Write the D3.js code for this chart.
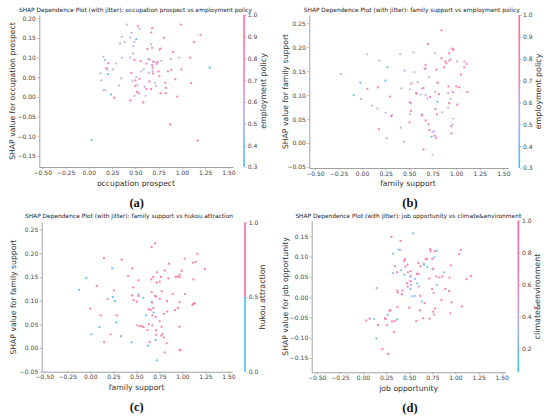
<!DOCTYPE html>
<html lang="en">
<head>
<meta charset="UTF-8">
<title>SHAP Dependence Plots (with jitter)</title>
<style>
  body { margin: 0; padding: 0; background: #fff; overflow: hidden; }
  svg { display: block; font-family: "DejaVu Sans", sans-serif; }
</style>
</head>
<body>
<script src="https://d3js.org/d3.v7.min.js"></script>
<script>
// ---- (a) occupation prospect vs employment policy ----
const occProspect = [0.41,0.53,0.546,0.68,0.99,0.67,0.46,1.2,0.354,0.51,
  0.446,0.807,0.386,0.49,0.336,1.13,0.67,0.48,0.63,0.68,
  0.76,0.77,0.907,0.475,0.157,0.446,0.175,0.357,1.09,0.97,
  0.654,0.64,0.49,0.557,0.88,0.69,0.78,0.74,0.71,0.21,
  0.29,0.62,0.73,0.68,0.19,0.26,0.59,0.686,0.996,0.886,
  0.20,0.686,1.3,0.125,0.207,0.564,0.75,0.85,0.646,0.457,
  0.69,0.76,0.51,0.35,0.546,0.93,0.136,0.47,0.50,0.65,
  1.10,0.71,0.82,0.525,0.325,0.72,0.50,0.60,0.62,0.83,
  0.67,0.157,0.18,0.518,0.77,0.825,0.54,0.24,0.49,0.61,
  0.95,0.275,0.446,0.586,0.875,0.03,1.17];
const shapOccProspect = [0.184,0.18,0.173,0.175,0.184,0.164,0.163,0.158,0.153,0.147,
  0.151,0.15,0.14,0.14,0.136,0.14,0.134,0.129,0.122,0.125,
  0.12,0.123,0.114,0.11,0.102,0.10,0.094,0.10,0.10,0.10,
  0.095,0.096,0.094,0.091,0.096,0.09,0.092,0.089,0.089,0.086,
  0.085,0.085,0.084,0.081,0.073,0.07,0.07,0.074,0.07,0.069,
  0.069,0.066,0.075,0.06,0.058,0.065,0.065,0.065,0.061,0.061,
  0.06,0.053,0.051,0.047,0.046,0.045,0.042,0.04,0.042,0.039,
  0.035,0.036,0.036,0.031,0.029,0.028,0.028,0.026,0.02,0.023,
  0.02,0.017,0.017,0.013,0.01,0.01,0.01,0.006,0.003,0.003,
  0.001,-0.002,-0.009,-0.014,-0.07,-0.109,-0.111];
const employPolicyA = [0.55,0.95,0.55,0.95,0.95,0.95,0.55,0.95,0.55,0.32,
  0.55,0.95,0.55,0.55,0.55,0.95,0.55,0.55,0.95,0.95,
  0.55,0.95,0.95,0.55,0.55,0.55,0.55,0.55,0.95,0.55,
  0.95,0.55,0.95,0.95,0.55,0.95,0.55,0.95,0.55,0.95,
  0.55,0.95,0.95,0.95,0.95,0.55,0.55,0.95,0.95,0.95,
  0.55,0.55,0.32,0.55,0.32,0.55,0.95,0.95,0.55,0.95,
  0.95,0.95,0.55,0.55,0.95,0.95,0.55,0.55,0.95,0.95,
  0.95,0.55,0.95,0.55,0.55,0.55,0.95,0.55,0.95,0.95,
  0.95,0.55,0.55,0.95,0.95,0.95,0.95,0.32,0.55,0.55,
  0.95,0.95,0.95,0.95,0.95,0.32,0.95];

// ---- (b) family support vs employment policy ----
const familySupportB = [-0.223,0.053,0.184,0.404,0.546,0.70,0.777,0.844,0.926,0.96,
  0.97,0.27,0.45,0.557,0.674,0.663,0.674,0.79,0.844,0.87,
  0.885,0.897,0.926,0.94,1.01,1.085,1.085,1.11,1.05,-0.018,
  0.248,0.592,0.713,0.80,0.81,0.918,1.0,1.03,-0.089,-0.011,
  0.057,0.17,0.298,0.418,0.507,0.525,0.578,0.62,0.635,0.652,
  0.674,0.695,0.723,0.777,0.80,0.816,0.915,0.926,0.943,0.965,
  1.117,1.01,0.103,0.163,0.25,0.319,0.309,0.504,0.518,0.51,
  0.52,0.63,0.638,0.674,0.706,0.78,0.794,0.85,0.915,0.97,
  0.947,0.96,0.18,0.41,0.504,0.262,0.443,0.716,0.748,0.766,
  0.738,0.77,0.787,0.95,0.652,0.748,0.574];
const shapFamilySupportB = [0.144,0.185,0.172,0.185,0.189,0.206,0.187,0.235,0.187,0.197,
  0.194,0.158,0.151,0.148,0.163,0.155,0.155,0.153,0.177,0.158,
  0.17,0.166,0.172,0.175,0.17,0.17,0.158,0.165,0.143,0.126,
  0.13,0.127,0.137,0.126,0.125,0.118,0.118,0.116,0.10,0.092,
  0.113,0.116,0.097,0.114,0.112,0.124,0.103,0.101,0.113,0.115,
  0.10,0.093,0.096,0.107,0.086,0.102,0.104,0.083,0.092,0.106,
  0.106,0.08,0.078,0.072,0.063,0.058,0.056,0.085,0.083,0.06,
  0.067,0.06,0.058,0.047,0.039,0.071,0.06,0.064,0.074,0.051,
  0.035,0.039,0.029,0.032,0.043,0.01,0.003,0.027,0.023,0.025,
  0.013,0.015,0.011,0.02,-0.013,-0.024,0.104];
const employPolicyB = [0.55,0.55,0.55,0.55,0.55,0.95,0.55,0.95,0.95,0.95,
  0.95,0.32,0.55,0.55,0.95,0.55,0.95,0.95,0.95,0.95,
  0.95,0.95,0.95,0.55,0.55,0.55,0.95,0.95,0.95,0.32,
  0.32,0.55,0.55,0.95,0.55,0.95,0.95,0.95,0.32,0.55,
  0.95,0.95,0.95,0.55,0.55,0.95,0.95,0.55,0.55,0.95,
  0.55,0.55,0.95,0.55,0.32,0.95,0.55,0.95,0.55,0.95,
  0.95,0.95,0.55,0.55,0.55,0.55,0.95,0.95,0.55,0.55,
  0.95,0.55,0.95,0.95,0.95,0.95,0.95,0.55,0.55,0.55,
  0.95,0.55,0.95,0.55,0.95,0.55,0.55,0.95,0.55,0.55,
  0.32,0.95,0.95,0.95,0.95,0.55,0.95];

// ---- (c) family support vs hukou attraction ----
const familySupportC = [-0.123,-0.043,0.149,0.239,0.34,0.069,0.0,0.112,0.10,0.01,
  0.149,0.22,0.188,0.246,0.257,0.268,0.286,0.283,0.333,0.449,
  0.457,0.41,0.467,0.453,0.47,0.504,0.525,0.522,0.525,0.576,
  0.667,0.703,0.663,0.685,0.725,0.721,0.768,0.754,0.812,0.848,
  0.855,0.946,0.928,0.97,0.97,0.993,1.025,1.116,1.145,1.163,
  1.243,1.12,0.667,0.775,0.714,0.703,0.754,0.667,0.672,0.833,
  0.895,1.03,0.97,1.12,1.135,1.11,0.634,0.656,0.685,0.688,
  0.605,0.674,0.71,0.80,0.837,0.92,0.953,0.754,0.674,0.638,
  0.775,0.51,0.536,0.56,0.58,0.62,0.714,0.786,0.772,0.714,
  0.71,0.80,0.645,0.627,0.83,0.808,0.97,0.97,0.98,0.725];
const shapFamilySupportC = [0.123,0.148,0.19,0.168,0.187,0.131,0.083,0.069,0.044,0.029,
  0.012,0.029,0.104,0.108,0.122,0.099,0.069,0.054,0.025,0.012,
  0.168,0.152,0.128,0.111,0.101,0.098,0.143,0.113,0.11,0.106,
  0.213,0.221,0.145,0.15,0.16,0.138,0.15,0.14,0.164,0.147,
  0.178,0.151,0.15,0.155,0.15,0.163,0.189,0.18,0.182,0.199,
  0.167,0.145,0.118,0.12,0.109,0.11,0.104,0.097,0.096,0.099,
  0.114,0.114,0.097,0.093,0.095,0.091,0.082,0.08,0.084,0.075,
  0.069,0.069,0.065,0.072,0.077,0.08,0.084,0.057,0.048,0.05,
  0.045,0.048,0.046,0.046,0.044,0.038,0.037,0.03,0.026,0.028,
  0.017,0.022,0.013,0.005,0.01,-0.009,0.045,-0.004,-0.005,-0.026];
const hukouAttraction = [0,0,1,0,1,1,1,1,0,0,
  1,1,1,0,1,0,1,0,0,0,
  1,1,1,1,1,1,1,0,1,0,
  1,1,1,1,1,1,1,1,1,1,
  1,1,1,1,1,1,1,1,1,1,
  1,1,1,1,1,1,1,0,1,1,
  1,1,1,1,1,1,1,1,1,0,
  0,1,1,1,1,1,1,1,1,1,
  1,1,1,1,1,1,1,1,1,1,
  0,1,1,0,1,1,1,1,1,0];

// ---- (d) job opportunity vs climate&environment ----
const jobOpportunity = [0.543,0.308,0.406,0.384,0.402,0.326,0.725,0.732,0.775,0.80,
  1.058,1.04,0.772,0.75,0.453,0.446,0.482,0.348,0.46,0.598,
  0.62,0.656,0.66,0.678,0.69,0.696,0.754,0.761,0.95,0.413,
  0.326,0.37,0.446,0.486,0.514,0.522,0.51,0.562,0.583,0.598,
  0.717,0.793,0.826,0.858,0.877,0.935,1.12,1.167,0.797,0.514,
  0.475,0.482,0.514,0.587,0.605,0.518,0.746,0.764,0.891,0.93,
  0.149,0.427,0.37,0.377,0.42,0.529,0.558,0.62,0.638,0.667,
  0.848,0.957,0.373,0.5,0.616,0.78,1.069,0.768,0.761,0.946,
  0.297,0.286,0.268,0.239,0.246,0.072,0.12,0.036,0.163,0.26,
  0.315,0.344,0.37,0.576,0.652,0.72,0.337,0.145,0.21,0.272];
const shapJobOpportunity = [0.157,0.148,0.138,0.117,0.116,0.107,0.118,0.113,0.113,0.114,
  0.116,0.106,0.098,0.094,0.094,0.089,0.08,0.076,0.075,0.084,
  0.076,0.083,0.079,0.093,0.094,0.074,0.07,0.068,0.078,0.066,
  0.059,0.061,0.055,0.061,0.064,0.053,0.05,0.045,0.057,0.057,
  0.046,0.051,0.048,0.051,0.061,0.048,0.044,0.052,0.03,0.039,
  0.034,0.026,0.02,0.034,0.026,0.03,0.02,0.01,0.02,0.015,
  0.022,0.016,0.016,0.011,0.007,0.002,0.003,0.003,-0.011,-0.015,
  -0.007,-0.013,-0.024,-0.026,-0.033,-0.028,-0.023,-0.043,-0.036,-0.04,
  -0.033,-0.033,-0.044,-0.052,-0.054,-0.053,-0.054,-0.057,-0.069,-0.069,
  -0.06,-0.059,-0.055,-0.059,-0.052,-0.053,-0.086,-0.102,-0.128,-0.14];
const climateEnv = [0.15,0.92,0.92,0.15,0.45,0.15,0.92,0.92,0.92,0.15,
  0.92,0.92,0.15,0.92,0.92,0.92,0.92,0.92,0.92,0.92,
  0.92,0.45,0.15,0.92,0.92,0.15,0.92,0.45,0.92,0.15,
  0.15,0.92,0.15,0.92,0.92,0.45,0.45,0.15,0.92,0.92,
  0.92,0.92,0.92,0.92,0.15,0.92,0.92,0.92,0.15,0.92,
  0.92,0.92,0.15,0.15,0.45,0.45,0.92,0.92,0.92,0.92,
  0.15,0.92,0.92,0.92,0.92,0.4,0.15,0.92,0.15,0.92,
  0.92,0.92,0.92,0.92,0.92,0.92,0.92,0.92,0.92,0.92,
  0.92,0.92,0.15,0.92,0.92,0.92,0.15,0.92,0.92,0.92,
  0.92,0.92,0.15,0.92,0.92,0.92,0.92,0.15,0.92,0.92];

// tick values
const xTickValues = [-0.5, -0.25, 0, 0.25, 0.5, 0.75, 1.0, 1.25, 1.5];
const yTicksA = [-0.15, -0.10, -0.05, 0, 0.05, 0.10, 0.15, 0.20];
const yTicksBC = [-0.05, 0, 0.05, 0.10, 0.15, 0.20, 0.25];
const yTicksD = [-0.15, -0.10, -0.05, 0, 0.05, 0.10, 0.15];
const cbTicksAB = [0.3, 0.4, 0.5, 0.6, 0.7, 0.8, 0.9, 1.0];
const cbTicksC = [0.0, 0.5, 1.0];
const cbTicksD = [0.2, 0.4, 0.6, 0.8, 1.0];

const width = 550, height = 418;
const blue = "#3fc2f8", pink = "#ff68a2";
// blue -> lavender -> pink, pink reached early like the reference bars
const cmap = d3.scaleLinear()
  .domain([0, 0.35, 0.62, 1])
  .range([blue, "#b7aaf0", "#f77cb2", pink])
  .interpolate(d3.interpolateRgb);

const svg = d3.select("body").append("svg")
  .attr("width", width)
  .attr("height", height);

const panels = [
  { xs: occProspect, ys: shapOccProspect, cs: employPolicyA,
    title: "SHAP Dependence Plot (with jitter): occupation prospect vs employment policy",
    xLabel: "occupation prospect", yLabel: "SHAP value for occupation prospect",
    cLabel: "employment policy", caption: "(a)",
    box: [39.3, 233, 15, 167], xDom: [-0.532, 1.55], yDom: [-0.178, 0.2084], yTicks: yTicksA,
    cDom: [0.3, 1.0], cTicks: cbTicksAB, binary: false,
    cbX: 244, cbLabelX: 263.5, titleX: 135.5, titleY: 11.5, yLabelX: 12, xLabelX: 136, xLabelY: 186, capX: 136.7, capY: 207 },
  { xs: familySupportB, ys: shapFamilySupportB, cs: employPolicyB,
    title: "SHAP Dependence Plot (with jitter): family support vs employment policy",
    xLabel: "family support", yLabel: "SHAP value for family support",
    cLabel: "employment policy", caption: "(b)",
    box: [309.3, 508.3, 15, 168], xDom: [-0.56, 1.553], yDom: [-0.052, 0.267], yTicks: yTicksBC,
    cDom: [0.3, 1.0], cTicks: cbTicksAB, binary: false,
    cbX: 519.3, cbLabelX: 538.5, titleX: 411.7, titleY: 11.5, yLabelX: 285, xLabelX: 408, xLabelY: 186, capX: 410, capY: 207 },
  { xs: familySupportC, ys: shapFamilySupportC, cs: hukouAttraction,
    title: "SHAP Dependence Plot (with jitter): family support vs hukou attraction",
    xLabel: "family support", yLabel: "SHAP value for family support",
    cLabel: "hukou attraction", caption: "(c)",
    box: [41.7, 232.3, 222.3, 371.7], xDom: [-0.528, 1.543], yDom: [-0.05, 0.2656], yTicks: yTicksBC,
    cDom: [0, 1], cTicks: cbTicksC, binary: true,
    cbX: 245, cbLabelX: 262.5, titleX: 129, titleY: 217.7, yLabelX: 13.3, xLabelX: 136.7, xLabelY: 390, capX: 136.7, capY: 411 },
  { xs: jobOpportunity, ys: shapJobOpportunity, cs: climateEnv,
    title: "SHAP Dependence Plot (with jitter): job opportunity vs climate&environment",
    xLabel: "job opportunity", yLabel: "SHAP value for job opportunity",
    cLabel: "climate&environment", caption: "(d)",
    box: [311.7, 505.7, 220.7, 372.3], xDom: [-0.554, 1.543], yDom: [-0.185, 0.188], yTicks: yTicksD,
    cDom: [0.053, 1.0], cTicks: cbTicksD, binary: false,
    cbX: 518.3, cbLabelX: 537.5, titleX: 408.3, titleY: 217.7, yLabelX: 285, xLabelX: 408.7, xLabelY: 391, capX: 410, capY: 412 }
];

const defs = svg.append("defs");

function styleAxis(g) {
  g.select(".domain").attr("stroke", "#8a8a8a").attr("stroke-width", 0.8);
  g.selectAll(".tick line").attr("stroke", "#8a8a8a").attr("stroke-width", 0.6);
  g.selectAll(".tick text").attr("fill", "#444").attr("font-size", "6px")
    .attr("font-family", "DejaVu Sans, sans-serif");
}

panels.forEach((p, i) => {
  const [l, r, t, b] = p.box;
  const x = d3.scaleLinear().domain(p.xDom).range([l, r]);
  const y = d3.scaleLinear().domain(p.yDom).range([b, t]);
  const c = d3.scaleLinear().domain(p.cDom).range([0, 1]).clamp(true);
  const g = svg.append("g");

  // axes (left and bottom spines only)
  g.append("g")
    .attr("transform", `translate(0,${b})`)
    .call(d3.axisBottom(x).tickValues(xTickValues).tickSize(2).tickSizeOuter(0)
      .tickPadding(1.5).tickFormat(d3.format(".2f")))
    .call(styleAxis);
  g.append("g")
    .attr("transform", `translate(${l},0)`)
    .call(d3.axisLeft(y).tickValues(p.yTicks).tickSize(2).tickSizeOuter(0)
      .tickPadding(1.5).tickFormat(d3.format(".2f")))
    .call(styleAxis);

  // points
  const pts = d3.range(p.xs.length);
  g.append("g").selectAll("circle")
    .data(pts)
    .join("circle")
    .attr("cx", k => x(p.xs[k]))
    .attr("cy", k => y(p.ys[k]))
    .attr("r", 1.15)
    .attr("fill", k => p.binary ? (p.cs[k] > 0.5 ? pink : blue) : cmap(c(p.cs[k])))
    .attr("opacity", 0.85);

  // colour bar
  const gradId = "cb" + i;
  const grad = defs.append("linearGradient").attr("id", gradId)
    .attr("x1", 0).attr("y1", 1).attr("x2", 0).attr("y2", 0);
  if (p.binary) {
    grad.append("stop").attr("offset", "0%").attr("stop-color", blue);
    grad.append("stop").attr("offset", "50%").attr("stop-color", blue);
    grad.append("stop").attr("offset", "50%").attr("stop-color", pink);
    grad.append("stop").attr("offset", "100%").attr("stop-color", pink);
  } else {
    d3.range(0, 1.001, 0.05).forEach(s => {
      grad.append("stop").attr("offset", (s * 100) + "%").attr("stop-color", cmap(s));
    });
  }
  const cy = d3.scaleLinear().domain(p.cDom).range([b, t]);
  g.append("rect")
    .attr("x", p.cbX - 0.8).attr("y", t)
    .attr("width", 1.6).attr("height", b - t)
    .attr("fill", `url(#${gradId})`);
  g.append("g")
    .attr("transform", `translate(${p.cbX + 0.8},0)`)
    .call(d3.axisRight(cy).tickValues(p.cTicks).tickSize(1.5).tickSizeOuter(0)
      .tickPadding(1.5).tickFormat(d3.format(".1f")))
    .call(styleAxis)
    .call(a => a.select(".domain").remove());

  // texts
  g.append("text")
    .attr("x", p.titleX).attr("y", p.titleY)
    .attr("text-anchor", "middle")
    .attr("font-size", "5.9px").attr("fill", "#222")
    .text(p.title);
  g.append("text")
    .attr("transform", `translate(${p.yLabelX},${(t + b) / 2}) rotate(-90)`)
    .attr("text-anchor", "middle").attr("dy", "0.35em")
    .attr("font-size", "7.7px").attr("fill", "#333")
    .text(p.yLabel);
  g.append("text")
    .attr("transform", `translate(${p.cbLabelX},${(t + b) / 2}) rotate(-90)`)
    .attr("text-anchor", "middle").attr("dy", "0.35em")
    .attr("font-size", "7.9px").attr("fill", "#333")
    .text(p.cLabel);
  g.append("text")
    .attr("x", p.xLabelX).attr("y", p.xLabelY)
    .attr("text-anchor", "middle")
    .attr("font-size", "7.7px").attr("fill", "#333")
    .text(p.xLabel);
  g.append("text")
    .attr("x", p.capX).attr("y", p.capY)
    .attr("text-anchor", "middle")
    .attr("font-family", "Liberation Serif, serif")
    .attr("font-weight", "bold")
    .attr("font-size", "12.5px").attr("fill", "#111")
    .text(p.caption);
});
</script>
</body>
</html>
